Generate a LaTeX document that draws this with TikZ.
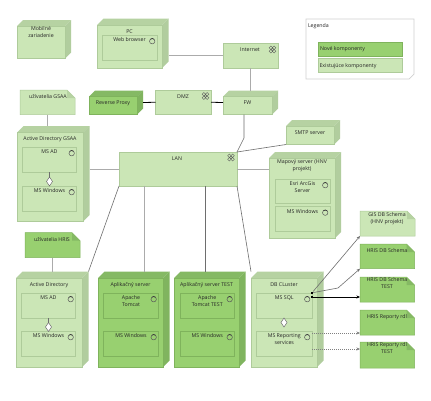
\documentclass[tikz,border=0pt]{standalone}
\usepackage{fontspec}
\setmainfont{Open Sans}
\usetikzlibrary{arrows.meta,calc,shapes.geometric}
\definecolor{fillL}{HTML}{CBE6B6}
\definecolor{topL}{HTML}{B6D2A2}
\definecolor{sideL}{HTML}{B1CD9E}
\definecolor{lineL}{HTML}{AECB9A}
\definecolor{fillD}{HTML}{98D070}
\definecolor{topD}{HTML}{85B964}
\definecolor{sideD}{HTML}{80B45F}
\definecolor{lineD}{HTML}{7FB35C}
\definecolor{connL}{HTML}{ABABAB}
\definecolor{connM}{HTML}{6E6E6E}
\tikzset{
  txt/.style={font=\fontsize{5.25}{6.9}\selectfont,align=center,inner sep=0pt,outer sep=0pt,text=black!85},
  ghost/.style={rectangle,inner sep=0pt,outer sep=0pt,draw=none},
  connlight/.style={draw=connL,line width=0.75pt},
  connmid/.style={draw=connM,line width=0.6pt},
  connblack/.style={draw=black,line width=0.8pt},
  flowarrow/.style={-{Stealth[length=3.5pt,width=3pt]}},
  dotconn/.style={draw=black!50,line width=0.45pt,dash pattern=on 1.2pt off 0.8pt,-{Stealth[length=3.5pt,width=3pt]}},
  aggr/.style={diamond,draw=connM,fill=white,line width=0.5pt,minimum width=6pt,minimum height=9pt,inner sep=0pt,outer sep=0pt},
  startsq/.style={rectangle,fill=black,minimum size=2.6pt,inner sep=0pt,outer sep=0pt},
}
% name, x1, y1, x2, y2, depth, L/D, text, text y
\newcommand\devbox[9]{%
  \node[ghost,minimum width={(#4+#6-#2)*1pt},minimum height={(#5+#6-#3)*1pt}] (#1) at ({(#2+#4+#6)/2},{(#3+#5-#6)/2}) {};
  \fill[top#7] (#2,#3) -- (#2+#6,#3-#6) -- (#4+#6,#3-#6) -- (#4,#3) -- cycle;
  \fill[side#7] (#4,#3) -- (#4+#6,#3-#6) -- (#4+#6,#5-#6) -- (#4,#5) -- cycle;
  \fill[fill#7,draw=line#7,line width=0.5pt] (#2,#3) rectangle (#4,#5);
  \node[txt,anchor=mid] (#1-t) at ({(#2+#4)/2},#9) {#8};
}
% name, x1, y1, x2, y2, L/D, text
\newcommand\compbox[7]{%
  \node[ghost,minimum width={(#4-#2)*1pt},minimum height={(#5-#3)*1pt}] (#1) at ({(#2+#4)/2},{(#3+#5)/2}) {};
  \draw[line#6,line width=0.5pt] (#2,#3) rectangle (#4,#5);
  \draw[black!65,line width=0.5pt] (#4-4.8,#3+6.2) circle (2.7pt);
  \draw[black!80,line width=0.6pt] (#4-6.7,#3+4.3) arc[start angle=135,end angle=45,radius=2.7pt];
  \node[txt,anchor=north] (#1-t) at ({(#2+#4)/2},#3+3) {#7};
}
% name, x1, y1, x2, y2, L/D, text, text x, text y
\newcommand\notebox[9]{%
  \node[ghost,minimum width={(#4-#2)*1pt},minimum height={(#5-#3)*1pt}] (#1) at ({(#2+#4)/2},{(#3+#5)/2}) {};
  \fill[fill#6,draw=line#6,line width=0.5pt] (#2,#3) -- (#4-8,#3) -- (#4,#3+8) -- (#4,#5) -- (#2,#5) -- cycle;
  \fill[top#6] (#4-8,#3) -- (#4,#3+8) -- (#4-8,#3+8) -- cycle;
  \node[txt,anchor=mid] (#1-t) at (#8,#9) {#7};
}
% centre x, y
\newcommand\netmark[2]{%
  \draw[black!65,line width=0.4pt] (#1-1.6,#2-1.7) circle (1.8pt) (#1+1.6,#2-1.7) circle (1.8pt) (#1-1.6,#2+1.7) circle (1.8pt) (#1+1.6,#2+1.7) circle (1.8pt);
}
\begin{document}
\begin{tikzpicture}[x=1pt,y=-1pt]
\useasboundingbox (0,0) rectangle (431,400);
\fill[white] (0,0) rectangle (431,400);

\coordinate (fwbend) at (244,138);
\coordinate (hrisbend) at (338,288);

% Top row
\devbox{mobile}{17}{26}{65}{58.7}{6}{L}{Mobilné\\zariadenie}{35}
\devbox{pc}{97}{25}{162}{68}{6.5}{L}{PC}{31}
\compbox{web}{102}{35}{157}{60}{L}{Web browser}

\node[ghost,minimum width=55pt,minimum height=25pt,fill=fillL,draw=lineL,line width=0.5pt] (internet) at (250.5,55.5) {};
\node[txt,anchor=mid] (internet-t) at (250,49) {Internet};
\netmark{272.5}{49.5}

% Legend
\node[ghost,minimum width=108pt,minimum height=60pt] (legend) at (360,49) {};
\fill[white,draw=black!18,line width=0.7pt] (306,19) -- (414,19) -- (414,74) -- (409,79) -- (306,79) -- cycle;
\node[txt,anchor=mid west] (legend-t) at (308,25) {Legenda};
\node[ghost,fill=fillD,draw=lineD,line width=0.5pt,minimum width=84pt,minimum height=13.5pt] (newc) at (360,49) {};
\node[txt,anchor=mid west] (newc-t) at (320,48) {Nové komponenty};
\node[ghost,fill=fillL,draw=lineL,line width=0.5pt,minimum width=84pt,minimum height=14pt] (oldc) at (360,65.5) {};
\node[txt,anchor=mid west] (oldc-t) at (319.5,64.5) {Existujúce komponenty};

% Second row
\notebox{gsaa}{20}{90}{75}{114.5}{L}{užívatelia GSAA}{48}{96}
\devbox{proxy}{89}{96.5}{137}{114.5}{6}{D}{Reverse Proxy}{102.3}
\node[ghost,minimum width=55.5pt,minimum height=24.5pt,fill=fillL,draw=lineL,line width=0.5pt] (dmz) at (183.25,102.25) {};
\node[txt,anchor=mid] (dmz-t) at (183,96) {DMZ};
\netmark{205.5}{96}
\devbox{fw}{223}{96.5}{272}{114.5}{6}{L}{FW}{102.3}

% Left column
\devbox{adg}{17}{132.7}{83}{221.7}{6.5}{L}{Active Directory GSAA}{138}
\compbox{adgad}{22.5}{147}{76.5}{172}{L}{MS AD}
\compbox{adgwin}{22.5}{186}{76.5}{211}{L}{MS Windows}

% LAN
\node[ghost,minimum width=118pt,minimum height=34pt,fill=fillL,draw=lineL,line width=0.5pt] (lan) at (178,169) {};
\node[txt,anchor=mid] (lan-t) at (177,157.5) {LAN};
\netmark{231}{157.5}

% Right column
\devbox{smtp}{286}{126}{334}{144.5}{6}{L}{SMTP server}{132}
\devbox{map}{269}{158}{335}{238}{6}{L}{Mapový server (HNV\\projekt)}{167.5}
\compbox{esri}{275}{179}{330}{203}{L}{Esri ArcGis\\Server}
\compbox{mapwin}{275}{206.5}{330}{231}{L}{MS Windows}

% Notes
\notebox{gis}{360}{211}{415}{236}{L}{GIS DB Schema\\(HNV projekt)}{387}{220.5}
\notebox{hrisdb}{360}{244}{414.5}{268.7}{D}{HRIS DB Schema}{387}{250}
\notebox{hristest}{360}{277}{414.5}{302}{D}{HRIS DB Schema\\TEST}{387}{286}
\notebox{rdl}{360}{310}{414.5}{335}{D}{HRIS Reporty rdl}{387}{315.7}
\notebox{rdltest}{360}{342}{414.5}{368}{D}{HRIS Reporty rdl\\TEST}{387}{351}
\notebox{hrisu}{25}{232.7}{80}{257.7}{D}{užívatelia HRIS}{52}{238.8}

% Bottom row
\devbox{ad}{16}{278}{82}{367}{6.5}{L}{Active Directory}{283.5}
\compbox{adad}{21.5}{293}{75.5}{318}{L}{MS AD}
\compbox{adwin}{21.5}{331}{75.5}{356}{L}{MS Windows}
\devbox{app}{98}{278}{163}{367}{6.5}{D}{Aplikačný server}{283.5}
\compbox{apptom}{103.5}{293}{158.5}{318}{D}{Apache\\Tomcat}
\compbox{appwin}{103.5}{331}{158.5}{356}{D}{MS Windows}
\devbox{test}{174}{278}{239}{367}{6.5}{D}{Aplikačný server TEST}{283.5}
\compbox{testtom}{180}{293}{234.5}{318}{D}{Apache\\Tomcat TEST}
\compbox{testwin}{180}{331}{234.5}{356}{D}{MS Windows}
\devbox{db}{251}{278}{317}{367}{6.5}{L}{DB CLuster}{283.5}
\compbox{sql}{256.5}{293}{312}{318}{L}{MS SQL}
\compbox{rep}{256.5}{331}{312}{356}{L}{MS Reporting\\services}

% Connectors
\draw[connlight] (internet.west -| pc.east) -- (internet.west);
\draw[connlight] (internet.south) -- (fw.north);
\draw[connblack] (proxy.east) -- (dmz.west);
\draw[connblack] (dmz.east) -- (fw.west);
\draw[connlight] (gsaa.south) -- (adg.north -| gsaa.south);
\draw[connlight] (lan.west -| adg.east) -- (lan.west);
\draw[connmid] (fwbend |- fw.south) -- (fwbend) -- (lan.north east);
\draw[connmid] (lan.north east) -- (smtp.south west);
\draw[connlight] (lan.east) -- (lan.east -| map.west);
\draw[connmid] (lan.south west) -- (ad.north east);
\draw[connlight] (app.north) ++(10.5,0) coordinate (appin) (appin |- lan.south) -- (appin);
\draw[connmid,line width=0.75pt] (test.north) ++(-4.5,0) coordinate (testin) (testin |- lan.south) -- (testin);
\draw[connmid] (lan.south east) -- (db.north west);
\draw[connlight] (hrisu.south) -- (ad.north -| hrisu.south);

% Aggregations
\node[aggr] (d1) at (49.5,181.5) {};
\draw[connmid] (adgad.south -| d1) -- (d1.north);
\node[aggr] (d2) at (48.5,327) {};
\draw[connmid] (adad.south -| d2) -- (d2.north);
\node[aggr] (d3) at (284,322.5) {};
\draw[connmid] (sql.south -| d3) -- (d3.north);

% Database links
\node[startsq] (s1) at (312,292.8) {};
\node[startsq] (s2) at (312,297) {};
\draw[connmid,flowarrow] (s1) -- (gis.south west);
\draw[connmid,flowarrow] (s1) -- (hrisbend) -- (hrisdb.south west);
\draw[connblack,flowarrow] (s2) -- (s2 -| hristest.west);
\coordinate (r1) at (312,333);
\coordinate (r2) at (312,349);
\draw[dotconn] (r1) -- (r1 -| rdl.west);
\draw[dotconn] (r2) -- (r2 -| rdltest.west);
\end{tikzpicture}
\end{document}
